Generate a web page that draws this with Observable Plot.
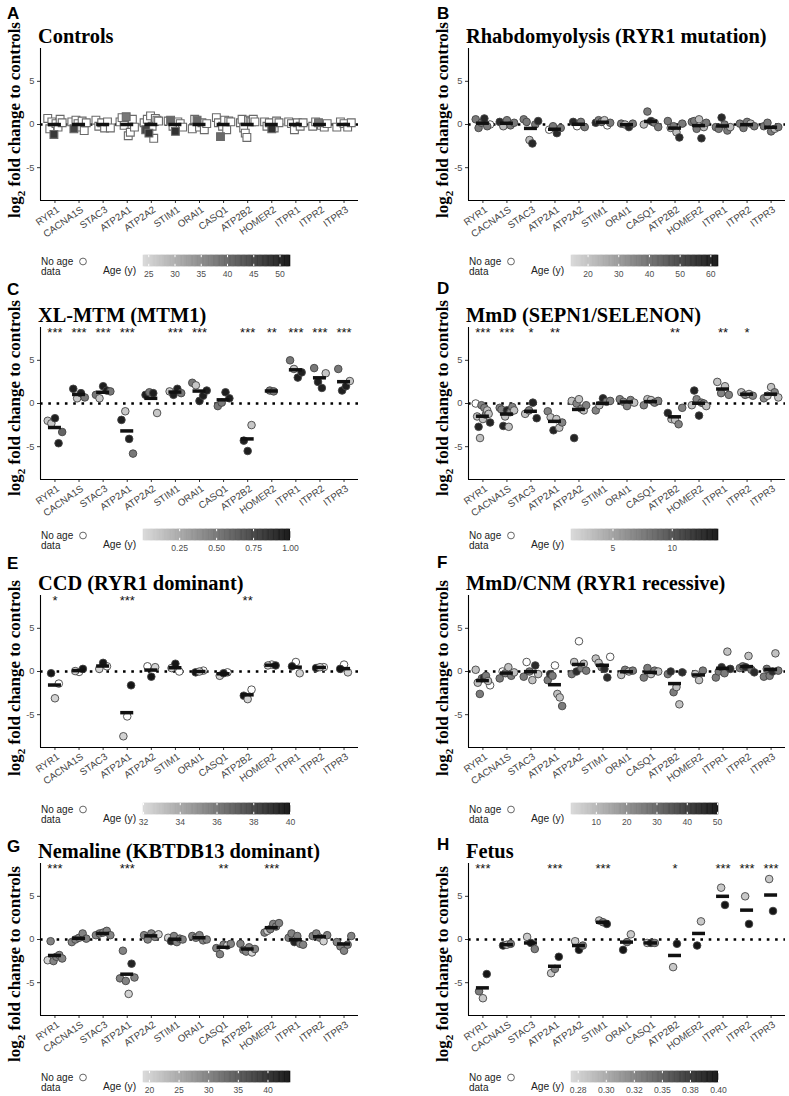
<!DOCTYPE html>
<html><head><meta charset="utf-8">
<script src="https://cdn.jsdelivr.net/npm/d3@7"></script>
<script src="https://cdn.jsdelivr.net/npm/@observablehq/plot@0.6"></script>
<style>
body{margin:0;background:#fff;}
#fig{position:relative;width:789px;height:1096px;overflow:hidden;background:#fff;}
.pl{position:absolute;}
#ov{position:absolute;left:0;top:0;pointer-events:none;z-index:5;}
</style></head><body><div id="fig"></div>
<script>
// ---------- DATA ----------
const genes = ["RYR1","CACNA1S","STAC3","ATP2A1","ATP2A2","STIM1","ORAI1","CASQ1","ATP2B2","HOMER2","ITPR1","ITPR2","ITPR3"];
const letters = ["A","B","C","D","E","F","G","H"];
const titles = ["Controls","Rhabdomyolysis (RYR1 mutation)","XL-MTM (MTM1)","MmD (SEPN1/SELENON)","CCD (RYR1 dominant)","MmD/CNM (RYR1 recessive)","Nemaline (KBTDB13 dominant)","Fetus"];
const ageDomains = [[24,52],[14.6,62.5],[0.005,1],[1.5,13.9],[32,40],[1.8,50.3],[19,43.8],[0.269,0.4]];
const ageTicks = [[25,30,35,40,45,50],[20,30,40,50,60],[0.25,0.5,0.75,1],[5,10],[32,34,36,38,40],[10,20,30,40,50],[20,25,30,35,40],[0.275,0.3,0.325,0.35,0.375,0.4]];
const ageTickLabels = [["25","30","35","40","45","50"],["20","30","40","50","60"],["0.25","0.50","0.75","1.00"],["5","10"],["32","34","36","38","40"],["10","20","30","40","50"],["20","25","30","35","40"],["0.28","0.30","0.32","0.35","0.38","0.40"]];
const starsA = ["","","","","","","","","","","","",""];
const starsB = ["","","","","","","","","","","","",""];
const starsC = ["***","***","***","***","","***","***","","***","**","***","***","***"];
const starsD = ["***","***","*","**","","","","","**","","**","*",""];
const starsE = ["*","","","***","","","","","**","","","",""];
const starsF = ["","","","","","","","","","","","",""];
const starsG = ["***","","","***","","","","**","","***","","",""];
const starsH = ["***","","","***","","***","","","*","","***","***","***"];
// points per gene: [log2 fold change, age (null = no age data)]
const pointsA = [
 [[0.7,null],[-0.5,null],[0.3,null],[-1.15,47],[0.1,null],[-0.3,null],[0.6,null],[0.2,null]],
 [[0.3,null],[-0.5,45],[0.5,null],[0.1,null],[-0.3,null],[0.4,null],[-0.7,null],[0.2,null]],
 [[0.5,null],[-0.2,null],[0.2,null],[-0.4,null],[0.3,null],[-0.4,null]],
 [[0.3,null],[0.8,null],[-0.1,null],[0.9,38],[-1.3,null],[-0.9,null],[0.6,null],[-0.3,null]],
 [[0.2,null],[-0.6,45],[0.6,null],[-1.0,48],[1.0,null],[-0.2,null],[-1.6,null],[0.7,null],[0.5,null],[0.4,null]],
 [[0.4,null],[0.5,40],[-0.2,null],[-0.8,48],[0.3,null],[0.1,null],[-0.3,null]],
 [[-0.5,null],[0.6,null],[0.5,40],[-0.3,null],[0.2,null],[-0.6,null],[0.1,null]],
 [[0.8,null],[0.2,null],[-1.4,40],[-0.2,null],[0.5,null],[-0.6,null],[0.4,null],[0.3,null]],
 [[0.2,null],[0.6,null],[-0.4,null],[-1.0,null],[-1.5,null],[0.5,null],[0.4,null],[0.3,null],[0.6,null],[0.3,null]],
 [[0.3,null],[-0.2,null],[0.2,null],[-0.5,48],[-0.4,null],[0.4,null],[0.2,null]],
 [[0.3,null],[0.1,null],[-0.6,null],[0.2,null],[-0.2,null],[0.2,null]],
 [[-0.2,null],[0.3,null],[0.2,38],[-0.1,null],[-0.3,null],[0.1,null]],
 [[-0.3,null],[0.3,null],[0.1,null],[-0.3,null],[0.2,null]]
];
const pointsB = [
 [[0.6,38],[-0.4,38],[0.2,38],[0.7,58],[-0.2,38],[0.0,null]],
 [[0.3,58],[-0.2,22],[0.5,38],[-0.1,38],[0.2,38]],
 [[0.6,38],[0.3,38],[-1.8,22],[-2.2,58],[0.0,38],[0.4,58]],
 [[-0.6,null],[-0.2,38],[-1.0,58],[-0.4,38]],
 [[0.3,58],[-0.2,null],[0.3,38],[-0.3,38]],
 [[0.2,58],[0.5,38],[0.3,38],[0.5,22],[-0.1,null],[0.2,38]],
 [[0.1,38],[0.0,22],[-0.3,58],[0.1,38]],
 [[0.0,22],[1.5,38],[0.4,58],[0.2,38],[-0.3,38]],
 [[0.4,38],[-0.4,22],[-0.2,38],[-0.9,22],[-1.5,58],[0.1,38]],
 [[0.3,38],[0.4,38],[-0.5,38],[0.6,22],[-1.6,58],[-0.3,22],[0.2,38]],
 [[-0.3,38],[-0.5,38],[0.8,58],[0.0,38],[-0.7,38],[-0.3,22]],
 [[0.1,38],[-0.4,38],[0.3,38],[0.1,22],[-0.2,38]],
 [[-0.2,38],[0.2,38],[-0.8,38],[-0.5,22],[-0.3,38]]
];
const pointsC = [
 [[-2.0,0.1],[-2.3,0.1],[-1.7,0.95],[-4.6,0.95],[-3.3,0.6]],
 [[1.7,0.95],[0.6,0.1],[1.2,0.95],[0.7,0.5]],
 [[1.0,0.5],[0.6,0.1],[2.0,0.95],[1.5,0.95],[1.4,0.5]],
 [[-1.9,0.95],[-0.9,0.1],[-4.1,0.95],[-5.8,0.5]],
 [[1.0,0.95],[1.3,0.5],[1.2,0.95],[-1.1,0.1]],
 [[1.4,0.1],[1.0,0.95],[1.7,0.95],[1.2,0.5]],
 [[2.4,0.5],[2.1,0.1],[0.3,0.95],[0.9,0.95],[1.5,0.95]],
 [[-0.3,0.5],[0.1,0.5],[1.3,0.95],[0.6,0.95]],
 [[-4.3,0.95],[-5.5,0.95],[-2.5,0.1]],
 [[1.5,0.5],[1.4,0.5]],
 [[5.0,0.5],[4.0,0.1],[3.0,0.95],[3.6,0.95]],
 [[4.1,0.5],[2.5,0.95],[1.8,0.95],[3.5,0.1]],
 [[4.0,0.5],[1.5,0.95],[2.0,0.95],[2.6,0.1]]
];
const pointsD = [
 [[0.0,null],[-1.5,3],[-2.7,13],[-4.0,3],[-0.2,7],[-1.8,3],[-0.5,7],[-1.3,7],[-0.8,3],[-1.2,3],[-2.2,13]],
 [[-0.5,7],[-0.7,7],[-2.6,13],[-1.5,3],[-0.8,13],[-2.7,3],[-1.0,7],[-0.4,7],[-0.8,3]],
 [[-1.2,3],[-0.8,7],[0.1,13],[-1.7,13]],
 [[-0.9,7],[-1.6,3],[-3.1,13],[-1.8,3],[-2.8,3],[-2.2,7]],
 [[0.3,3],[-4.0,13],[0.0,7],[0.5,3],[-0.6,7],[-0.8,3],[-0.2,7]],
 [[-0.8,7],[-0.2,3],[0.6,13],[0.2,7],[0.3,7]],
 [[0.5,7],[0.2,7],[-0.3,7],[0.4,7],[0.1,3]],
 [[-0.2,7],[0.5,3],[0.4,3],[0.1,7],[0.3,7]],
 [[-1.1,13],[-1.8,3],[-1.9,3],[-2.4,7],[-0.5,7]],
 [[-0.2,3],[1.5,13],[0.5,7],[-1.4,13],[0.1,7],[0.0,7],[-0.3,3]],
 [[2.5,3],[1.2,7],[2.0,3],[1.0,7]],
 [[1.3,3],[1.0,7],[1.1,3],[0.9,7]],
 [[0.6,7],[0.9,3],[1.9,3],[1.3,7],[0.7,3]]
];
const pointsE = [
 [[-0.2,40],[-3.1,32.3],[-1.4,null]],
 [[0.05,32.3],[-0.05,null],[0.3,40]],
 [[0.3,32.3],[1.0,40],[0.6,null]],
 [[-7.5,32.3],[-5.2,null],[-1.6,40]],
 [[0.6,null],[-0.6,40],[0.5,32.3]],
 [[0.4,32.3],[0.9,40],[0.0,null]],
 [[-0.1,40],[0.0,32.3],[0.1,null]],
 [[-0.5,32.3],[-0.2,40],[-0.1,null]],
 [[-2.8,40],[-3.2,32.3],[-2.1,null]],
 [[0.7,32.3],[0.8,null],[0.7,40]],
 [[0.6,40],[1.1,null],[-0.2,32.3]],
 [[0.4,40],[0.5,32.3],[0.5,null]],
 [[0.3,40],[0.8,null],[-0.1,32.3]]
];
const pointsF = [
 [[0.2,8],[-1.3,8],[-2.6,25],[-0.8,25],[-0.7,45],[-0.5,25],[-1.1,8],[-1.6,null]],
 [[-0.8,25],[0.0,null],[-0.2,25],[0.5,8],[-0.5,25],[-0.1,8]],
 [[-0.6,25],[1.1,null],[0.0,25],[-1.0,8],[0.7,45],[-0.3,8]],
 [[-1.0,25],[-0.3,45],[-0.5,25],[0.7,null],[-2.6,8],[-3.0,8],[-4.0,25]],
 [[-0.3,25],[1.1,8],[0.0,45],[3.5,null],[0.4,25],[0.9,8],[0.1,25]],
 [[1.5,8],[1.0,8],[0.5,25],[0.3,45],[-0.7,45],[1.7,null]],
 [[-0.4,8],[0.2,25],[0.0,8],[0.1,25]],
 [[-0.7,25],[0.4,25],[-0.3,8],[0.1,25],[0.0,8]],
 [[-0.3,25],[0.0,45],[-2.4,25],[-1.8,8],[-3.8,8],[-0.1,45]],
 [[-0.3,8],[-1.0,8],[0.1,25]],
 [[-0.7,25],[0.0,25],[0.5,45],[-0.2,25],[2.3,8],[0.3,45]],
 [[0.4,25],[0.6,25],[0.5,45],[1.8,8],[0.2,25],[-0.1,45]],
 [[-0.6,25],[0.3,25],[-0.5,25],[0.0,45],[2.1,8],[0.1,25]]
];
const pointsG = [
 [[-2.4,20],[-0.2,30],[-2.5,30],[-2.0,30],[-1.8,30],[-2.2,30]],
 [[-0.3,30],[0.0,30],[0.2,30],[0.7,30],[0.1,30]],
 [[0.5,30],[0.7,30],[0.8,30],[1.0,30],[0.5,30]],
 [[-4.5,30],[-1.3,30],[-4.8,30],[-6.3,20],[-2.8,42],[-4.4,30]],
 [[0.5,30],[0.0,30],[0.7,30],[0.3,30],[0.6,20]],
 [[0.2,20],[-0.2,42],[0.4,30],[-0.3,30],[0.1,30],[0.0,30]],
 [[0.4,30],[0.2,30],[0.5,30],[-0.1,30],[0.0,30]],
 [[-1.0,30],[-1.7,30],[-0.6,30],[-0.7,20],[-0.5,30]],
 [[-0.5,30],[-1.2,30],[-1.4,30],[-0.9,30],[-1.5,20],[-1.1,30]],
 [[0.8,30],[1.0,20],[1.2,30],[1.8,30],[1.5,30],[1.9,30]],
 [[0.2,30],[0.7,30],[-0.3,42],[0.4,30],[-0.5,30],[-0.6,30]],
 [[0.4,30],[0.7,30],[0.2,30],[-0.2,20],[0.5,30]],
 [[-0.3,30],[-0.8,30],[-1.3,30],[-0.6,30],[0.4,30]]
];
const pointsH = [
 [[-6.0,0.33],[-6.8,0.28],[-4.0,0.4]],
 [[-0.7,0.4],[-0.6,0.28],[-0.5,0.33]],
 [[0.3,0.28],[-0.4,0.4],[-1.1,0.33]],
 [[-3.9,0.28],[-3.4,0.33],[-2.0,0.4]],
 [[-0.2,0.28],[-1.2,0.4],[-0.7,0.33]],
 [[2.2,0.28],[2.0,0.33],[1.8,0.4]],
 [[-1.2,0.4],[-0.3,0.33],[0.6,0.28]],
 [[-0.4,0.28],[-0.4,0.4],[-0.4,0.33]],
 [[-3.2,0.28],[-0.5,0.4]],
 [[-0.7,0.4],[2.1,0.28]],
 [[6.0,0.28],[4.0,0.4]],
 [[5.0,0.28],[1.8,0.4]],
 [[7.0,0.28],[3.3,0.4]]
];
const allPoints = [pointsA,pointsB,pointsC,pointsD,pointsE,pointsF,pointsG,pointsH];
const allStars = [starsA,starsB,starsC,starsD,starsE,starsF,starsG,starsH];

// ---------- LAYOUT ----------
const colLeft = [0, 395];
const plotLeft = [40, 73];
const plotRight = [358, 390];
const plotTops = [48, 327, 595, 863];
const plotH = 152;
const barTops = [255, 529, 803, 1071];
const yLabelCenter = [72, 71, 83, 101];
const letterBase = [[19,19],[295,294],[569,568],[852,850]];
const letterX = [7, 437];
const grayRange = ["#dadada", "#151515"];
const SANS = "'Liberation Sans', Arial, sans-serif";
const SERIF = "'Liberation Serif', 'Times New Roman', serif";

const fig = document.getElementById("fig");
const NS = "http://www.w3.org/2000/svg";
const ov = document.createElementNS(NS, "svg");
ov.setAttribute("id","ov"); ov.setAttribute("width",789); ov.setAttribute("height",1096);
fig.appendChild(ov);
function svgText(x, y, str, attrs){
  const t = document.createElementNS(NS, "text");
  t.setAttribute("x", x); t.setAttribute("y", y);
  for (const k in attrs) t.setAttribute(k, attrs[k]);
  if (str != null) t.textContent = str;
  ov.appendChild(t); return t;
}
function place(el, left, top){
  const d = document.createElement("div");
  d.className = "pl"; d.style.left = left + "px"; d.style.top = top + "px";
  d.appendChild(el); fig.appendChild(d);
}

for (let p = 0; p < 8; p++){
  const row = Math.floor(p/2), col = p % 2;
  const L = plotLeft[col], R = plotRight[col], top = plotTops[row], X0 = colLeft[col];
  const data = [];
  allPoints[p].forEach((arr, gi) => {
    const n = arr.length;
    const w = Math.min(0.3, 0.08*(n-1));
    arr.forEach(([v, a], i) => data.push({x: gi + 1 + (n > 1 ? -w + 2*w*i/(n-1) : 0), v, age: a}));
  });
  const means = allPoints[p].map((arr, gi) => ({x: gi + 1, m: d3.mean(arr, d => d[0])}));
  const starData = allStars[p].map((s, gi) => ({x: gi + 1, s})).filter(d => d.s);
  const symbol = p === 0 ? "square" : "circle";
  const r = p === 0 ? 4.4 : 3.8;
  const stroke = p === 0 ? "#6a6a6a" : "#444";
  const colorOpt = {type: "linear", domain: ageDomains[p], range: grayRange};
  const chart = Plot.plot({
    width: 394, height: 10 + plotH + 45,
    marginTop: 10, marginBottom: 45, marginLeft: L, marginRight: 394 - R,
    x: {domain: [0.4, 13.6], label: null, axis: null},
    y: {domain: [-8.8, 8.8], label: null, axis: null},
    color: colorOpt,
    style: {fontFamily: SANS, background: "transparent", overflow: "visible"},
    marks: [
      Plot.ruleY([0], {stroke: "#000", strokeWidth: 2.6, strokeDasharray: "2.6,5.7"}),
      Plot.dot(data.filter(d => d.age == null), {x: "x", y: "v", r, symbol, fill: "white", stroke, strokeWidth: p === 0 ? 1.1 : 0.9}),
      Plot.dot(data.filter(d => d.age != null), {x: "x", y: "v", r, symbol, fill: "age", stroke, strokeWidth: p === 0 ? 1.1 : 0.9}),
      Plot.ruleY(means, {x1: d => d.x - 0.27, x2: d => d.x + 0.27, y: "m", stroke: "#111", strokeWidth: 3.5}),
      Plot.text(starData, {x: "x", y: 8.15, text: "s", fontSize: 13, fill: "#111"}),
      Plot.axisX({ticks: d3.range(1, 14), tickSize: 3, tickFormat: () => "", stroke: "#333", label: null}),
      Plot.text(d3.range(1, 14), {x: d => d, y: -8.8, text: d => genes[d-1], rotate: -35, textAnchor: "end", lineAnchor: "top", dy: 5, dx: 1, fontSize: 9.8, fill: "#444"}),
      Plot.axisY({ticks: [-5, 0, 5], tickFormat: d => String(d), tickSize: 3, tickPadding: 3, stroke: "#333", fill: "#4d4d4d", fontSize: 9.3, label: null}),
      Plot.ruleX([0.4], {stroke: "#000", strokeWidth: 1.1}),
      Plot.ruleY([-8.8], {stroke: "#000", strokeWidth: 1.1})
    ]
  });
  place(chart, X0, top - 10);

  // colour bar legend
  const [a0, a1] = ageDomains[p];
  const steps = d3.range(0, 120).map(i => ({x1: a0 + (a1 - a0)*i/120, x2: a0 + (a1 - a0)*(i + 1)/120}));
  const labelMap = new Map(ageTicks[p].map((t, i) => [t, ageTickLabels[p][i]]));
  const bar = Plot.plot({
    width: 147 + 30, height: 11 + 16, marginLeft: 15, marginRight: 15, marginTop: 0, marginBottom: 16,
    x: {domain: [a0, a1], label: null, axis: null}, y: {domain: [0, 1], label: null, axis: null},
    color: colorOpt,
    style: {fontFamily: SANS, background: "transparent", overflow: "visible"},
    marks: [
      Plot.rect(steps, {x1: "x1", x2: "x2", y1: 0, y2: 1, fill: d => (d.x1 + d.x2)/2, stroke: d => (d.x1 + d.x2)/2, strokeWidth: 0.6}),
      Plot.ruleX(ageTicks[p], {y1: 0, y2: 0.2, stroke: "white", strokeWidth: 1}),
      Plot.ruleX(ageTicks[p], {y1: 0.8, y2: 1, stroke: "white", strokeWidth: 1}),
      Plot.text(ageTicks[p], {x: d => d, y: 0, text: d => labelMap.get(d), lineAnchor: "top", dy: 4, fontSize: 8.6, fill: "#4d4d4d"})
    ]
  });
  place(bar, X0 + L + 103 - 15, barTops[row]);

  // overlay texts
  svgText(letterX[col], letterBase[row][col], letters[p], {"font-family": SANS, "font-weight": "bold", "font-size": 17, fill: "#000"});
  svgText(X0 + L - 2, top - 5, titles[p], {"font-family": SERIF, "font-weight": "bold", "font-size": 20.4, fill: "#000"});
  const cy = top + yLabelCenter[row], cx = X0 + L - 20;
  const yl = svgText(cx, cy, null, {"font-family": SERIF, "font-weight": "bold", "font-size": 17, fill: "#000", "text-anchor": "middle", transform: `rotate(-90 ${cx} ${cy})`});
  const t1 = document.createElementNS(NS, "tspan"); t1.textContent = "log"; yl.appendChild(t1);
  const t2 = document.createElementNS(NS, "tspan"); t2.textContent = "2"; t2.setAttribute("dy", 5); t2.setAttribute("font-size", 11); yl.appendChild(t2);
  const t3 = document.createElementNS(NS, "tspan"); t3.textContent = " fold change to controls"; t3.setAttribute("dy", -5); yl.appendChild(t3);
  const bt = barTops[row], lx = X0 + L;
  svgText(lx + 1, bt + 9.5, "No age", {"font-family": SANS, "font-size": 10, fill: "#222"});
  svgText(lx + 1, bt + 19.5, "data", {"font-family": SANS, "font-size": 10, fill: "#222"});
  const c = document.createElementNS(NS, "circle");
  c.setAttribute("cx", lx + 43); c.setAttribute("cy", bt + 6.5); c.setAttribute("r", 3.4);
  c.setAttribute("fill", "white"); c.setAttribute("stroke", "#555"); c.setAttribute("stroke-width", 0.9);
  ov.appendChild(c);
  svgText(lx + 63, bt + 18.5, "Age (y)", {"font-family": SANS, "font-size": 10.3, fill: "#222"});
}
</script></body></html>
